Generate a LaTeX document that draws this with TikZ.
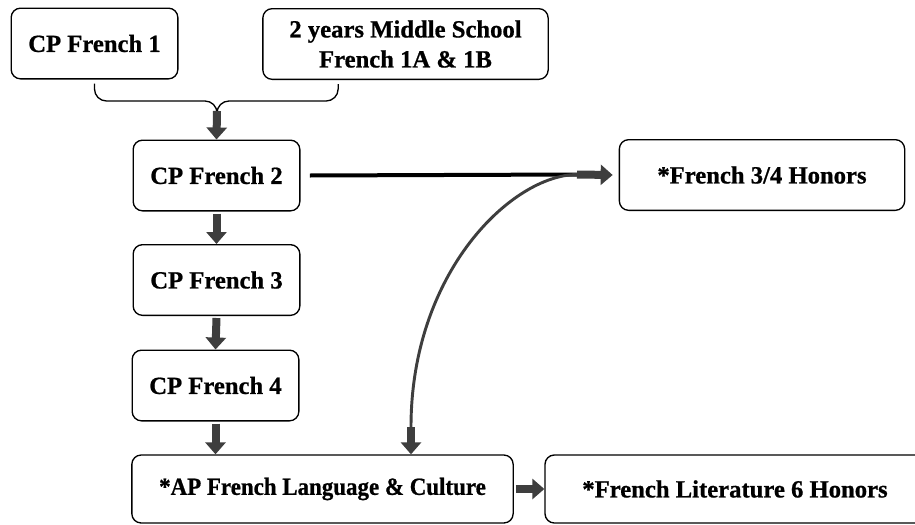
\documentclass[tikz,border=0pt]{standalone}
\usepackage{fontspec}
\setmainfont{LiberationSerif}[Extension=.ttf, UprightFont=*-Regular, BoldFont=*-Bold, BoldFeatures={FakeBold=0.8}]
\usetikzlibrary{arrows.meta}

\begin{document}
\begin{tikzpicture}[x=0.75pt, y=-0.75pt, line cap=butt, line join=round,
    course/.style={draw, line width=1pt, rounded corners=7pt, align=center,
        font=\fontsize{18.5}{22.5}\selectfont\bfseries, minimum height=53pt},
    blockarrow/.style={draw={rgb,255:red,62;green,62;blue,62}, line width=6pt,
        -{Triangle[width=15pt, length=9pt]}},
    joint/.style={draw, line width=1pt, rounded corners=9pt}]
                \useasboundingbox (0, 0) rectangle (915, 525);
                \clip (0, 0) rectangle (915, 525);
                \node[course, minimum width=125pt] (fr1) at (94.5, 43.5) {CP French 1};
                \node[course, minimum width=214pt] (ms) at (405.5, 44) {2 years Middle School\\French 1A \& 1B};
                \node[course, minimum width=125pt] (fr2) at (216.5, 175.5) {CP French 2};
                \node[course, minimum width=125pt] (fr3) at (216.5, 280) {CP French 3};
                \node[course, minimum width=125pt] (fr4) at (215.5, 385.5) {CP French 4};
                \node[course, minimum width=214pt] (hon) at (762, 175) {*French 3/4 Honors};
                \node[course, minimum width=286pt, minimum height=51pt] (ap) at (322.5, 489) {\scalebox{0.93}[1]{*AP French Language \& Culture}};
                \node[course, minimum width=285pt, minimum height=51pt] (lit) at (735, 489) {*French Literature 6 Honors};
                \coordinate (mid) at (217, 101);
                \coordinate (join) at (217, 111);
                \coordinate (elbow) at (577, 174.5);
                \coordinate (bend) at (411, 427);
                \draw[joint] ([yshift=-3pt]fr1.south) |- (mid) -- (join);
                \draw[joint] ([xshift=57pt, yshift=-3pt]ms.south west) |- (mid) -- (join);
                \draw[blockarrow] (join) -- (fr2.north);
                \draw[blockarrow] ([yshift=-1.5pt]fr2.south) -- (fr3.north);
                \draw[blockarrow] ([yshift=-1.5pt]fr3.south) -- (fr4.north);
                \draw[blockarrow] ([yshift=-1.5pt]fr4.south) -- (fr4.south |- ap.north);
                \draw[line width=3pt] ([xshift=7pt]fr2.east) -- (elbow);
                \draw[blockarrow] (elbow) -- ([xshift=-4.5pt]hon.west);
                \draw[line width=2.2pt, draw={rgb,255:red,62;green,62;blue,62}] (elbow) .. controls (512, 175) and (411, 272) .. (bend);
                \draw[blockarrow] (bend) -- (bend |- ap.north);
                \draw[blockarrow] ([xshift=1.5pt]ap.east) -- (lit.west);
            \end{tikzpicture}
\end{document}
